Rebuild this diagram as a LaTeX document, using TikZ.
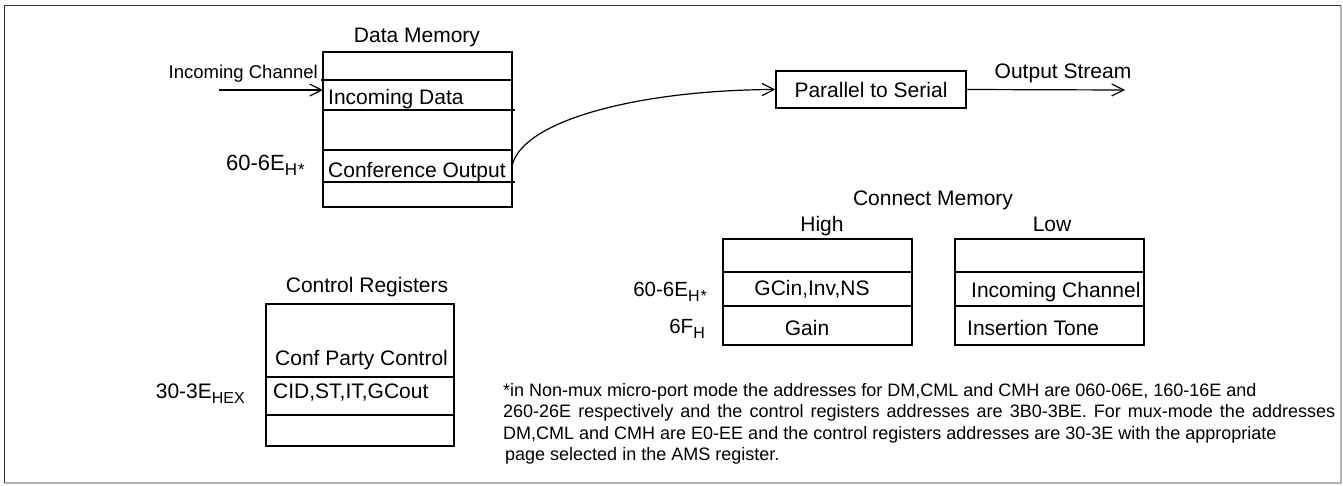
\documentclass[tikz,border=0pt]{standalone}
\usepackage{fontspec}
\setmainfont{Liberation Sans}
\usetikzlibrary{arrows.meta}
\newcommand\lsub[2]{\raisebox{-5pt}{\fontsize{#1}{#1}\selectfont #2}}
\begin{document}
\begin{tikzpicture}[x=1pt,y=-1pt,
  cell/.style={draw, line width=1.2pt, rectangle, minimum width=189pt, inner sep=0pt, outer sep=0pt, anchor=north west},
  big/.style={font=\fontsize{21}{25}\selectfont, inner sep=0pt},
  small/.style={font=\fontsize{18.5}{22}\selectfont, inner sep=0pt},
  note/.style={font=\fontsize{18}{22}\selectfont, inner sep=0pt, anchor=base west},
  barb/.style={-{Straight Barb[length=12pt,width=12pt]}, line width=1.2pt}]
\useasboundingbox (0,0) rectangle (1343,485);
% frame
\draw[black!80, line width=1.2pt] (4.5,483) -- (4.5,5.5) -- (1341,5.5);
\draw[black!30, line width=1.2pt] (1341,5.5) -- (1341,483) -- (4.5,483);

% Data Memory
\node[big, anchor=base] (dmt) at (417,42) {Data Memory};
\node[cell, minimum height=28pt] (dm1) at (323,52) {};
\node[cell, minimum height=30pt] (dm2) at (323,80) {};
\node[cell, minimum height=40pt] (dm3) at (323,110) {};
\node[cell, minimum height=32pt] (dm4) at (323,150) {};
\node[cell, minimum height=25pt] (dm5) at (323,182) {};
\draw[line width=1.2pt] (dm2.north west) -- ++(-2,0);
\draw[line width=1.2pt] (dm3.north east) -- ++(3,0);
\draw[line width=1.2pt] (dm5.north east) -- ++(3,0);
\node[small, anchor=base east] (ict) at (318,78) {Incoming Channel};
\node[big, anchor=base west] (idt) at (328,104) {Incoming Data};
\node[big, anchor=base west] (cot) at (328,177) {Conference Output};
\node[anchor=base east, inner sep=0pt, font=\fontsize{22}{26}\selectfont] (dma) at (305,170) {60-6E\lsub{17}{H\kern1pt*}};
\coordinate (icin) at (219,90);
\draw[barb] (icin) -- (icin -| dm2.west);

% Parallel to serial
\node[draw, line width=1.2pt, minimum width=190pt, minimum height=37pt, big] (ps) at (871,89.5) {Parallel to Serial};
\draw[barb] (dm4.east) .. controls (522,120) and (640,90) .. (ps.west);
\coordinate (osend) at (1125,90);
\draw[barb] (ps.east) -- (osend);
\node[big, anchor=base] (ost) at (1063,78) {Output Stream};

% Connect Memory
\node[big, anchor=base] (cmt) at (933,205) {Connect Memory};
\node[big, anchor=base] (hit) at (822,231) {High};
\node[big, anchor=base] (lot) at (1052,231) {Low};
\node[cell, minimum height=33pt] (h1) at (723,239) {};
\node[cell, minimum height=34pt] (h2) at (723,272) {};
\node[cell, minimum height=39pt] (h3) at (723,306) {};
\node[cell, minimum height=33pt] (l1) at (955,239) {};
\node[cell, minimum height=34pt] (l2) at (955,272) {};
\node[cell, minimum height=39pt] (l3) at (955,306) {};
\node[big, anchor=base] (gct) at (812,295) {GCin,Inv,NS};
\node[big, anchor=base] (gat) at (807,335) {Gain};
\node[big, anchor=base west] (lict) at (971,297) {Incoming Channel};
\node[big, anchor=base west] (itt) at (967,335) {Insertion Tone};
\node[anchor=base east, inner sep=0pt, font=\fontsize{20.5}{24}\selectfont] (cma) at (707,296) {60-6E\lsub{16}{H\kern1pt*}};
\node[anchor=base east, inner sep=0pt, font=\fontsize{20.5}{24}\selectfont] (cmb) at (705,333) {6F\lsub{16}{H}};

% Control Registers
\node[big, anchor=base] (crt) at (367,292) {Control Registers};
\node[cell, minimum width=188pt, minimum height=73pt] (c1) at (266,304) {};
\node[cell, minimum width=188pt, minimum height=38pt] (c2) at (266,377) {};
\node[cell, minimum width=188pt, minimum height=31pt] (c3) at (266,415) {};
\node[big, anchor=base west] (cpt) at (275,365) {Conf Party Control};
\node[big, anchor=base west] (cit) at (273,398) {CID,ST,IT,GCout};
\node[big, anchor=base east] (cra) at (245,398) {30-3E\lsub{16}{HEX}};

% Footnote
\node[note] (fn1) at (503,396) {*in Non-mux micro-port mode the addresses for DM,CML and CMH are 060-06E, 160-16E and};
\node[note] (fn2) at (503,417.5) {\makebox[832pt][s]{260-26E respectively and the control registers addresses are 3B0-3BE. For mux-mode the addresses}};
\node[note] (fn3) at (503,439) {DM,CML and CMH are E0-EE and the control registers addresses are 30-3E with the appropriate};
\node[note] (fn4) at (505,460.5) {page selected in the AMS register.};
\end{tikzpicture}
\end{document}
